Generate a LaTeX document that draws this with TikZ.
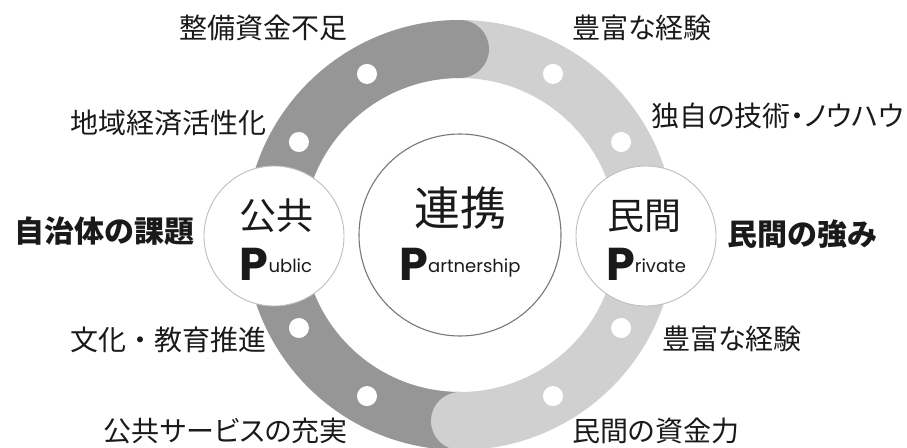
\documentclass[tikz,border=0pt]{standalone}
\usepackage{fontspec}
\usetikzlibrary{calc}
\newfontfamily\jp{Noto Sans CJK JP}
\newfontfamily\jpp{Noto Sans CJK JP}[RawFeature=+palt]
\newfontfamily\pop{Poppins}
\definecolor{ringdark}{RGB}{150,150,150}
\definecolor{ringlight}{RGB}{208,208,208}
\definecolor{rimlight}{RGB}{190,190,190}
\definecolor{rimdark}{RGB}{120,120,120}
\definecolor{ink}{RGB}{26,26,26}
\tikzset{
  dot/.style={circle,fill=white,minimum size=20pt,inner sep=0pt},
  sidecircle/.style={circle,draw=rimlight,line width=0.9pt,fill=white,minimum size=140pt,inner sep=0pt},
  midcircle/.style={circle,draw=rimdark,line width=1.1pt,fill=white,minimum size=202pt,inner sep=0pt},
  lbl/.style={inner sep=0pt,text=ink,font=\jp\fontsize{28}{30}\selectfont},
  lblp/.style={inner sep=0pt,text=ink,font=\jpp\fontsize{28}{30}\selectfont},
  lblb/.style={inner sep=0pt,text=ink,font=\jp\bfseries\fontsize{30}{32}\selectfont},
  inner/.style={inner sep=0pt,text=ink,font=\jp\fontsize{37}{40}\selectfont},
  innerbig/.style={inner sep=0pt,text=ink,font=\jp\fontsize{46}{48}\selectfont},
  eng/.style={inner sep=0pt,text=ink,anchor=base}
}
\newcommand{\bigP}[1]{{\pop\bfseries\fontsize{46}{46}\selectfont P}\raisebox{8pt}{\pop\fontsize{18}{18}\selectfont #1}}
\begin{document}
\begin{tikzpicture}[x=1pt,y=-1pt]
\useasboundingbox (0,0) rectangle (907,447);
\fill[white] (0,0) rectangle (907,447);
\coordinate (O) at (460,235);
% ring
\draw[ringlight,line width=58pt] (O) circle (186pt);
\draw[ringdark,line width=58pt] (460,421) arc[start angle=-90,end angle=-270,radius=186pt];
\fill[ringdark] (460,49) circle (29pt);
\fill[ringlight] (460,421) circle (29pt);
% dots
\foreach \a in {30,60,120,150,210,240,300,330}
  \node[dot] (d\a) at ($(O)+(\a:186pt)$) {};
% circles
\node[sidecircle] (pub) at (274,236) {};
\node[sidecircle] (pri) at (646,236) {};
\node[midcircle] (mid) at (O) {};
% inner texts
\node[inner] (pubj) at (276,216) {公共};
\node[inner] (prij) at (644,216) {民間};
\node[innerbig] (midj) at (460,208) {連携};
\node[eng] (pube) at (276,280) {\bigP{ublic}};
\node[eng] (prie) at (646,280) {\bigP{rivate}};
\node[eng] (mide) at (460,280) {\bigP{artnership}};
% left labels
\node[lbl,anchor=east] (l1) at (348,28) {整備資金不足};
\node[lbl,anchor=east] (l2) at (267,123) {地域経済活性化};
\node[lblb,anchor=east] (l3) at (195,231) {自治体の課題};
\node[lbl,anchor=east] (l4) at (267,340) {文化・教育推進};
\node[lblp,anchor=east] (l5) at (348,431) {公共サービスの充実};
% right labels
\node[lblp,anchor=west] (r1) at (572,28) {豊富な経験};
\node[lblp,anchor=east] (r2) at (904,116) {独自の技術・ノウハウ};
\node[lblb,anchor=west] (r3) at (727,234) {民間の強み};
\node[lblp,anchor=west] (r4) at (662,339) {豊富な経験};
\node[lblp,anchor=west] (r5) at (572,431) {民間の資金力};
\end{tikzpicture}
\end{document}
